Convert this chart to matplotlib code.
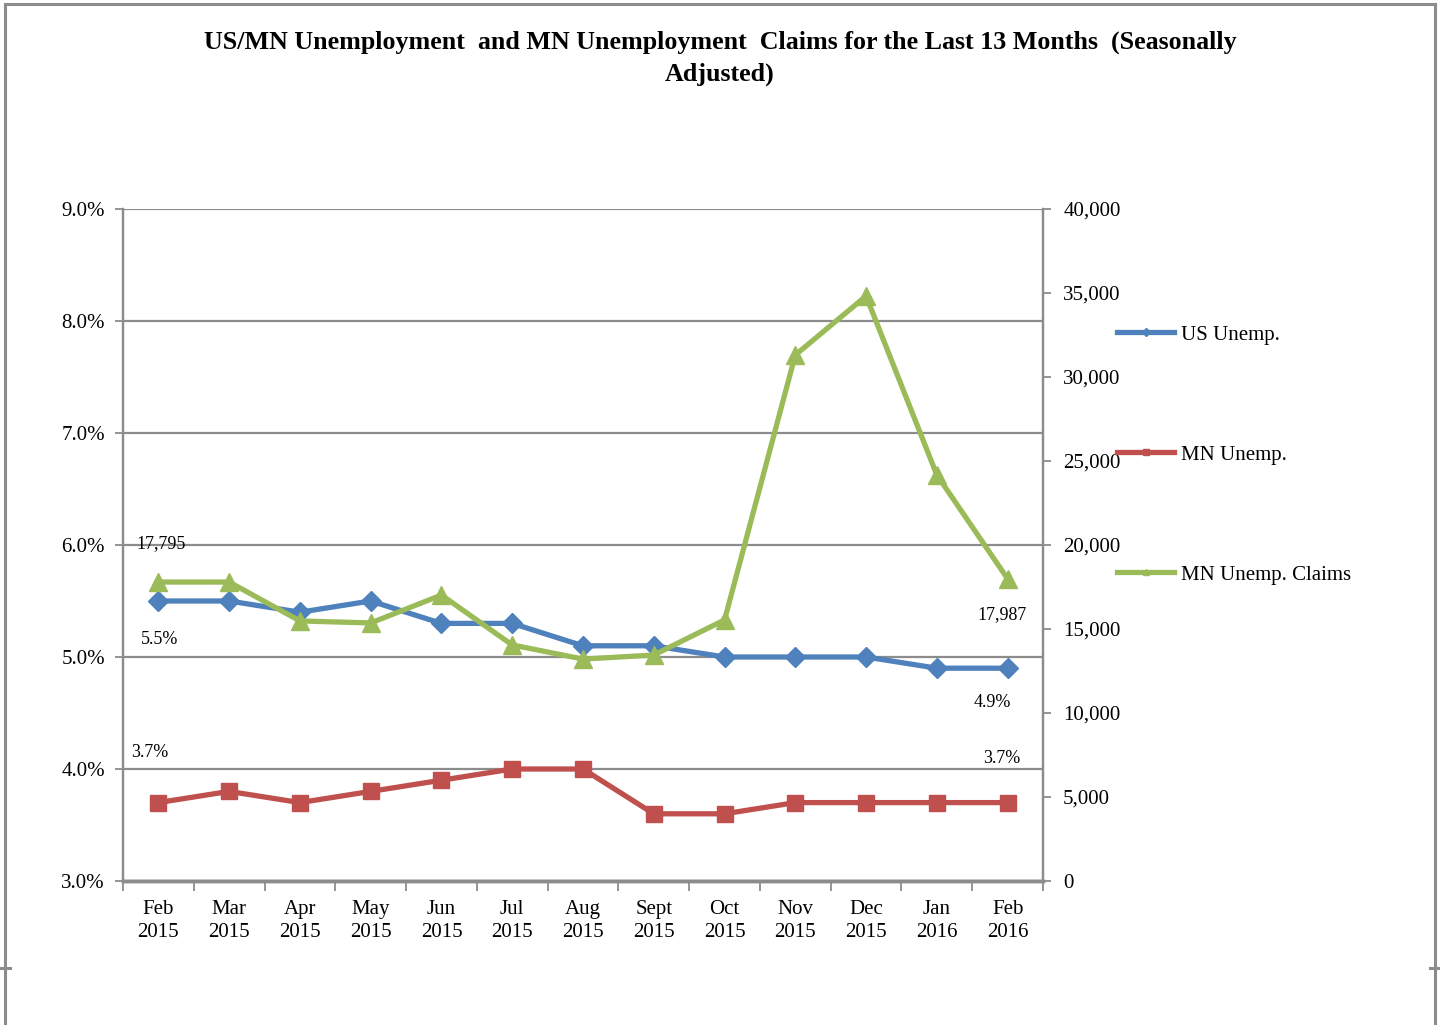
"""US/MN unemployment and MN unemployment claims, last 13 months."""

import matplotlib

matplotlib.use("Agg")
import matplotlib.pyplot as plt
from matplotlib.lines import Line2D
from matplotlib.ticker import FuncFormatter, MultipleLocator

plt.rcParams["font.family"] = ["Liberation Serif", "DejaVu Serif"]

MONTHS = ["Feb\n2015", "Mar\n2015", "Apr\n2015", "May\n2015", "Jun\n2015",
          "Jul\n2015", "Aug\n2015", "Sept\n2015", "Oct\n2015", "Nov\n2015",
          "Dec\n2015", "Jan\n2016", "Feb\n2016"]
US_UNEMP = [5.5, 5.5, 5.4, 5.5, 5.3, 5.3, 5.1, 5.1, 5.0, 5.0, 5.0, 4.9, 4.9]
MN_UNEMP = [3.7, 3.8, 3.7, 3.8, 3.9, 4.0, 4.0, 3.6, 3.6, 3.7, 3.7, 3.7, 3.7]
MN_CLAIMS = [17795, 17795, 15480, 15360, 17020, 14050, 13210, 13450, 15540,
             31310, 34820, 24170, 17987]

BLUE = "#4F81BD"
RED = "#C0504D"
GREEN = "#9BBB59"
GRAY = "#8C8C8C"

TITLE = ("US/MN Unemployment  and MN Unemployment  Claims for the Last 13 Months  (Seasonally\n"
         "Adjusted)")

W, H = 1440, 1025
fig = plt.figure(figsize=(W / 100, H / 100), dpi=100, facecolor="white")
ax = fig.add_axes([123 / W, 1 - 881 / H, 920 / W, 672 / H])
ax2 = ax.twinx()

x = list(range(len(MONTHS)))
ax.plot(x, US_UNEMP, color=BLUE, lw=3.8, marker="D", ms=10, zorder=3)
ax.plot(x, MN_UNEMP, color=RED, lw=3.8, marker="s", ms=11.5, zorder=3)
ax2.plot(x, MN_CLAIMS, color=GREEN, lw=3.8, marker="^", ms=13, zorder=3)

# left axis
ax.set_xlim(-0.5, len(MONTHS) - 0.5)
ax.set_ylim(3.0, 9.0)
ax.yaxis.set_major_locator(MultipleLocator(1.0))
ax.yaxis.set_major_formatter(FuncFormatter(lambda v, p: f"{v:.1f}%"))
ax.grid(axis="y", color=GRAY, lw=1.6, zorder=0)
ax.set_axisbelow(True)

ax.set_xticks(x)
ax.set_xticklabels(MONTHS, fontsize=15, linespacing=1.22)
ax.set_xticks([i - 0.5 for i in range(len(MONTHS) + 1)], minor=True)
ax.tick_params(axis="x", which="major", length=0, pad=14)
ax.tick_params(axis="x", which="minor", length=7, width=1.3, color=GRAY, direction="out")
ax.tick_params(axis="y", labelsize=15, length=6, width=1.3, color=GRAY, pad=7)

# right axis
ax2.set_ylim(0, 40000)
ax2.yaxis.set_major_locator(MultipleLocator(5000))
ax2.yaxis.set_major_formatter(FuncFormatter(lambda v, p: f"{v:,.0f}"))
ax2.tick_params(axis="y", labelsize=15, length=6, width=1.3, color=GRAY, pad=8.5)

for a in (ax, ax2):
    a.spines["top"].set_visible(False)
    a.spines["left"].set_color(GRAY)
    a.spines["right"].set_color(GRAY)
    a.spines["left"].set_linewidth(1.6)
    a.spines["right"].set_linewidth(1.6)
    a.spines["bottom"].set_color(GRAY)
    a.spines["bottom"].set_linewidth(2.5)

# data labels on first and last points
lab = dict(fontsize=13, textcoords="offset points", ha="center", va="center")
ax2.annotate(f"{MN_CLAIMS[0]:,}", (x[0], MN_CLAIMS[0]), xytext=(2, 28), **lab)
ax2.annotate(f"{MN_CLAIMS[-1]:,}", (x[-1], MN_CLAIMS[-1]), xytext=(-4, -26), **lab)
ax.annotate(f"{US_UNEMP[0]:.1f}%", (x[0], US_UNEMP[0]), xytext=(1, -28), **lab)
ax.annotate(f"{US_UNEMP[-1]:.1f}%", (x[-1], US_UNEMP[-1]), xytext=(-11, -25), **lab)
ax.annotate(f"{MN_UNEMP[0]:.1f}%", (x[0], MN_UNEMP[0]), xytext=(-6, 36), **lab)
ax.annotate(f"{MN_UNEMP[-1]:.1f}%", (x[-1], MN_UNEMP[-1]), xytext=(-4, 32), **lab)

# legend, widely spaced down the right side
handles = [
    Line2D([], [], color=BLUE, lw=3.8, marker="D", ms=4),
    Line2D([], [], color=RED, lw=3.8, marker="s", ms=5),
    Line2D([], [], color=GREEN, lw=3.8, marker="^", ms=5),
]
fig.legend(handles, ["US Unemp.", "MN Unemp.", "MN Unemp. Claims"],
           loc="upper left", bbox_to_anchor=(1117 / W, 1 - 325 / H),
           frameon=False, fontsize=15, handlelength=2.75, handletextpad=0.3,
           labelspacing=4.82, borderaxespad=0, borderpad=0)

fig.text(0.5, 1 - 31 / H, TITLE, ha="center", va="top", fontsize=18.7,
         fontweight="bold", linespacing=1.45, multialignment="center")

# outer frame of the chart area
for xs, ys in [((5 / W, 5 / W), (0, 1 - 4 / H)),
               ((5 / W, 1435 / W), (1 - 4 / H, 1 - 4 / H)),
               ((1435 / W, 1435 / W), (0, 1 - 4 / H)),
               ((0, 10 / W), (1 - 968 / H, 1 - 968 / H)),
               ((1430 / W, 1), (1 - 968 / H, 1 - 968 / H))]:
    fig.add_artist(Line2D(xs, ys, transform=fig.transFigure, color=GRAY, lw=2.2))

fig.savefig("out.png", dpi=100, facecolor="white")
